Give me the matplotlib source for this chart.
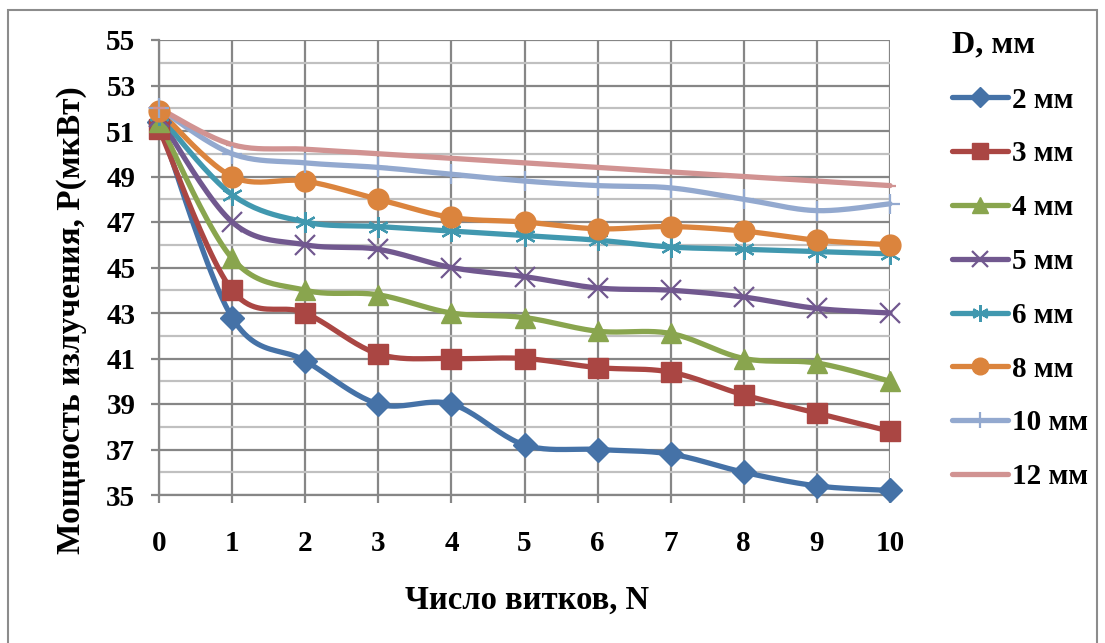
import matplotlib
matplotlib.use("Agg")
import matplotlib.pyplot as plt
from matplotlib.lines import Line2D
from matplotlib.patches import Rectangle
import numpy as np

plt.rcParams['font.family'] = ['Liberation Serif', 'DejaVu Serif']
plt.rcParams['font.weight'] = 'bold'

turns = [0, 1, 2, 3, 4, 5, 6, 7, 8, 9, 10]
labels = ["2 мм", "3 мм", "4 мм", "5 мм", "6 мм", "8 мм", "10 мм", "12 мм"]
p_2mm = [51.4, 42.8, 40.9, 39.0, 39.0, 37.2, 37.0, 36.8, 36.0, 35.4, 35.2]
p_3mm = [51.1, 44.0, 43.0, 41.2, 41.0, 41.0, 40.6, 40.4, 39.4, 38.6, 37.8]
p_4mm = [51.4, 45.4, 44.0, 43.8, 43.0, 42.8, 42.2, 42.1, 41.0, 40.8, 40.0]
p_5mm = [51.6, 47.0, 46.0, 45.8, 45.0, 44.6, 44.1, 44.0, 43.7, 43.2, 43.0]
p_6mm = [51.7, 48.2, 47.0, 46.8, 46.6, 46.4, 46.2, 45.9, 45.8, 45.7, 45.6]
p_8mm = [51.9, 49.0, 48.8, 48.0, 47.2, 47.0, 46.7, 46.8, 46.6, 46.2, 46.0]
p_10mm = [52.0, 50.0, 49.6, 49.4, 49.1, 48.8, 48.6, 48.5, 48.0, 47.5, 47.8]
p_12mm = [52.0, 50.4, 50.2, 50.0, 49.8, 49.6, 49.4, 49.2, 49.0, 48.8, 48.6]
series = [p_2mm, p_3mm, p_4mm, p_5mm, p_6mm, p_8mm, p_10mm, p_12mm]

colors = ["#4572A7", "#AA4643", "#89A54E", "#71588F", "#4198AF", "#DB843D", "#93A9CF", "#D19392"]
markers = ["D", "s", "^", "x", (6, 2, 0), "o", "+", "_"]
msizes = [12.5, 14, 14, 14, 15, 15, 15, 8]
mews = [1, 1, 1, 1.6, 1.6, 1, 1.6, 1.6]


def smooth(x, y, n=24):
    x = np.asarray(x, float)
    y = np.asarray(y, float)
    P = np.column_stack([x, y])
    out = [P[0]]
    m = len(P)
    t = np.linspace(0, 1, n)[1:]
    for i in range(m - 1):
        p0 = P[i - 1] if i > 0 else P[i]
        p1 = P[i]
        p2 = P[i + 1]
        p3 = P[i + 2] if i + 2 < m else P[i + 1]
        c1 = p1 + (p2 - p0) / 6.0
        c2 = p2 - (p3 - p1) / 6.0
        for tt in t:
            b = ((1 - tt) ** 3) * p1 + 3 * ((1 - tt) ** 2) * tt * c1 + 3 * (1 - tt) * tt ** 2 * c2 + tt ** 3 * p2
            out.append(b)
    out = np.array(out)
    return out[:, 0], out[:, 1]


W, H = 1105, 643
fig = plt.figure(figsize=(W / 100, H / 100), dpi=100)
fig.patches.append(Rectangle((8 / W, -0.01), (1097 - 8) / W, (H - 10) / H + 0.01,
                             transform=fig.transFigure, fill=False, edgecolor="#8C8C8C", lw=1.5))

ax = fig.add_axes([159 / W, 1 - 495 / H, (890 - 159) / W, (495 - 40) / H])
ax.set_xlim(0, 10)
ax.set_ylim(35, 55)
ax.set_xticks(turns)
ax.set_yticks(np.arange(35, 56, 2))
ax.set_yticks(np.arange(36, 55, 2), minor=True)
ax.grid(True, which="major", axis="both", color="#868686", lw=1.6, zorder=0)
ax.grid(True, which="minor", axis="y", color="#C0C0C0", lw=1.6, zorder=0)
ax.tick_params(axis="y", which="minor", length=0)
ax.tick_params(axis="both", which="major", length=6, width=1.6, color="#868686",
               labelsize=21)
ax.tick_params(axis="y", which="major", pad=11)
ax.tick_params(axis="x", which="major", pad=19)
for lab in ax.get_xticklabels() + ax.get_yticklabels():
    lab.set_fontweight("bold")
for s in ["top", "right"]:
    ax.spines[s].set_visible(False)
for s in ["left", "bottom"]:
    ax.spines[s].set_color("#868686")
    ax.spines[s].set_linewidth(1.6)
ax.set_axisbelow(True)

handles = []
for vals, c, mk, ms, mew, lab in zip(series, colors, markers, msizes, mews, labels):
    sx, sy = smooth(turns, vals)
    ax.plot(sx, sy, color=c, lw=3.8, solid_capstyle="round", clip_on=False, zorder=3)
    ax.plot(turns, vals, linestyle="none", marker=mk, markersize=ms, color=c,
            markeredgecolor=c, markeredgewidth=mew, clip_on=False, zorder=4)
    handles.append(Line2D([], [], color=c, lw=3.8, marker=mk, markersize=ms * 0.8,
                          markeredgecolor=c, markeredgewidth=mew, solid_capstyle="round"))

ax.set_xlabel("Число витков, N", fontsize=23.5, fontweight="bold")
ax.xaxis.set_label_coords(0.503, -0.231)
ax.xaxis.label.set_va("center")
ax.set_ylabel("Мощность излучения, P(мкВт)", fontsize=24, fontweight="bold")
ax.yaxis.set_label_coords(-0.12, 0.385)
ax.yaxis.label.set_va("center")

leg = fig.legend(handles, labels, loc="upper left", bbox_to_anchor=(940 / W, 1 - 19 / H),
                 frameon=False, title="D, мм", fontsize=21, handlelength=1.92,
                 handletextpad=0.14, labelspacing=0.92, borderaxespad=0)
leg.get_title().set_fontweight("bold")
leg.get_title().set_fontsize(23)
leg._legend_box.align = "left"
for t in leg.get_texts():
    t.set_fontweight("bold")

fig.savefig("out.png", dpi=100)
